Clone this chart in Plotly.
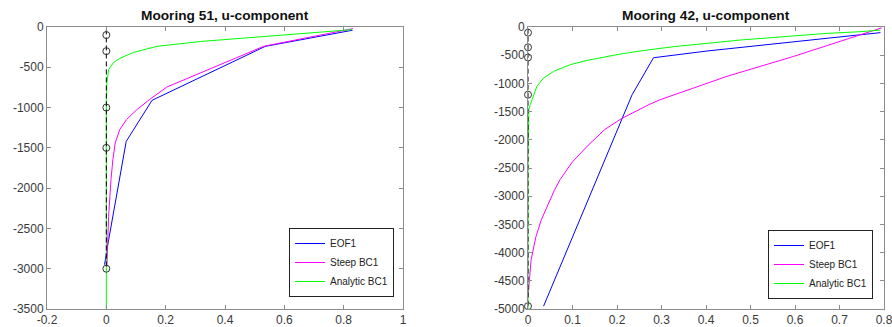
import plotly.graph_objects as go

# ---------------- data: Mooring 51 ----------------
eof1_51_u = [0.83, 0.536, 0.154, 0.067, 0.004, -0.006]
eof1_51_z = [-40, -240, -910, -1420, -2720, -2950]

steep_51_u = [0.831, 0.53, 0.429, 0.317, 0.204, 0.145, 0.103, 0.068, 0.045, 0.030,
              0.022, 0.0157, 0.0076, 0.0043, 0.002]
steep_51_z = [-20, -240, -397, -571, -745, -902, -1026, -1150, -1274, -1439,
              -1646, -1895, -2350, -2722, -2970]

analytic_51_u = [0.828, 0.54, 0.317, 0.171, 0.092, 0.045, 0.0245, 0.0077, 0.002, 0.0, 0.0]
analytic_51_z = [-33, -118, -180, -240, -315, -390, -440, -530, -695, -900, -3500]

zero_51_u = [0, 0]
zero_51_z = [-30, -3000]
inst_51_u = [0, 0, 0, 0, 0]
inst_51_z = [-100, -300, -1000, -1500, -3000]

# ---------------- data: Mooring 42 ----------------
eof1_42_u = [0.792, 0.672, 0.541, 0.402, 0.282, 0.234, 0.035]
eof1_42_z = [-100, -200, -310, -426, -545, -1200, -4950]

steep_42_u = [0.795, 0.709, 0.634, 0.597, 0.447, 0.372, 0.297, 0.272, 0.250, 0.2097,
              0.172, 0.1326, 0.099, 0.072, 0.059, 0.050, 0.030, 0.018, 0.007, 0.002, 0.0005]
steep_42_z = [-15, -231, -426, -521, -875, -1082, -1289, -1375, -1466, -1626,
              -1821, -2117, -2400, -2707, -2900, -3062, -3417, -3712, -4126, -4599, -4780]

analytic_42_u = [0.792, 0.747, 0.672, 0.597, 0.522, 0.477, 0.402, 0.327, 0.252, 0.207,
                 0.1326, 0.095, 0.0575, 0.035, 0.020, 0.011, 0.005, 0.002, 0.001, 0.0, 0.0]
analytic_42_z = [-55, -83, -113, -154, -200, -231, -290, -349, -426, -480,
                 -592, -668, -787, -905, -1053, -1230, -1378, -1466, -1800, -2300, -5000]

zero_42_u = [0, 0]
zero_42_z = [-30, -4950]
inst_42_u = [0, 0, 0, 0, 0]
inst_42_z = [-100, -360, -540, -1200, -4950]

titles = ["Mooring 51, u-component", "Mooring 42, u-component"]
series_names = ["EOF1", "Steep BC1", "Analytic BC1"]
series_colors = ["#0000ff", "#ff00ff", "#00ff00"]

x_ticks_51 = [-0.2, 0, 0.2, 0.4, 0.6, 0.8, 1]
x_ticks_42 = [0, 0.1, 0.2, 0.3, 0.4, 0.5, 0.6, 0.7, 0.8]
y_ticks_51 = list(range(-3500, 1, 500))
y_ticks_42 = list(range(-5000, 1, 500))

FONT = "Liberation Sans, Arial, Helvetica, sans-serif"
AX = "#8c8c8c"
TXT = "#3a3a3a"

fig = go.Figure()

panels = [
    dict(xa="x", ya="y", leg="legend",
         series=[(eof1_51_u, eof1_51_z), (steep_51_u, steep_51_z), (analytic_51_u, analytic_51_z)],
         zero=(zero_51_u, zero_51_z), inst=(inst_51_u, inst_51_z)),
    dict(xa="x2", ya="y2", leg="legend2",
         series=[(eof1_42_u, eof1_42_z), (steep_42_u, steep_42_z), (analytic_42_u, analytic_42_z)],
         zero=(zero_42_u, zero_42_z), inst=(inst_42_u, inst_42_z)),
]

for p in panels:
    for (u, z), name, col in zip(p["series"], series_names, series_colors):
        fig.add_trace(go.Scatter(x=u, y=z, mode="lines", name=name,
                                 line=dict(color=col, width=1),
                                 xaxis=p["xa"], yaxis=p["ya"], legend=p["leg"]))
    fig.add_trace(go.Scatter(x=p["zero"][0], y=p["zero"][1], mode="lines",
                             line=dict(color="black", width=1, dash="5px,3px"),
                             showlegend=False, xaxis=p["xa"], yaxis=p["ya"]))
    fig.add_trace(go.Scatter(x=p["inst"][0], y=p["inst"][1], mode="markers",
                             marker=dict(symbol="circle-open", size=7, color="#333",
                                         line=dict(width=1, color="#333")),
                             cliponaxis=False,
                             showlegend=False, xaxis=p["xa"], yaxis=p["ya"]))

W, H = 892, 327
left_dom = [47 / W, 403 / W]
right_dom = [528 / W, 884 / W]
y_dom = [1 - 309 / H, 1 - 27 / H]

def xaxis(dom, rng, ticks, anchor):
    return dict(domain=dom, range=rng, tickvals=ticks, ticktext=[f"{t:g}" for t in ticks],
                showline=True, linecolor=AX, linewidth=1, mirror="ticks", automargin=False,
                ticks="inside", ticklen=4, tickcolor=AX, showgrid=False, zeroline=False,
                ticklabeloverflow="allow",
                tickfont=dict(family=FONT, size=12, color=TXT), anchor=anchor)

def yaxis(rng, ticks, anchor):
    return dict(domain=y_dom, range=rng, tickvals=ticks, ticktext=[f"{t:g}" for t in ticks],
                showline=True, linecolor=AX, linewidth=1, mirror="ticks", automargin=False,
                ticks="inside", ticklen=4, tickcolor=AX, showgrid=False, zeroline=False,
                ticklabeloverflow="allow",
                tickfont=dict(family=FONT, size=12, color=TXT), anchor=anchor)

def legend(xr, yb):
    return dict(x=xr, y=yb, xanchor="right", yanchor="bottom", xref="paper", yref="paper",
                bgcolor="white", bordercolor="#222", borderwidth=1,
                font=dict(family=FONT, size=10, color="#222"),
                tracegroupgap=0, itemwidth=30)

fig.update_layout(
    width=W, height=H,
    margin=dict(l=0, r=0, t=0, b=0, autoexpand=False),
    paper_bgcolor="white", plot_bgcolor="white",
    xaxis=xaxis(left_dom, [-0.2, 1], x_ticks_51, "y"),
    yaxis=yaxis([-3500, 0], y_ticks_51, "x"),
    xaxis2=xaxis(right_dom, [0, 0.8], x_ticks_42, "y2"),
    yaxis2=yaxis([-5000, 0], y_ticks_42, "x2"),
    legend=legend(394 / W, 1 - 297 / H),
    legend2=legend(873 / W, 1 - 299 / H),
    annotations=[
        dict(text=f"<b>{titles[0]}</b>", x=sum(left_dom) / 2, y=1 - 16 / H, xref="paper", yref="paper",
             showarrow=False, font=dict(family=FONT, size=13.7, color="#111"), xanchor="center", yanchor="middle"),
        dict(text=f"<b>{titles[1]}</b>", x=sum(right_dom) / 2, y=1 - 16 / H, xref="paper", yref="paper",
             showarrow=False, font=dict(family=FONT, size=13.7, color="#111"), xanchor="center", yanchor="middle"),
    ],
)

fig.write_html("out.html",
               config={"displayModeBar": False},
               post_script="document.body.style.margin='0';document.body.style.overflow='hidden';")
